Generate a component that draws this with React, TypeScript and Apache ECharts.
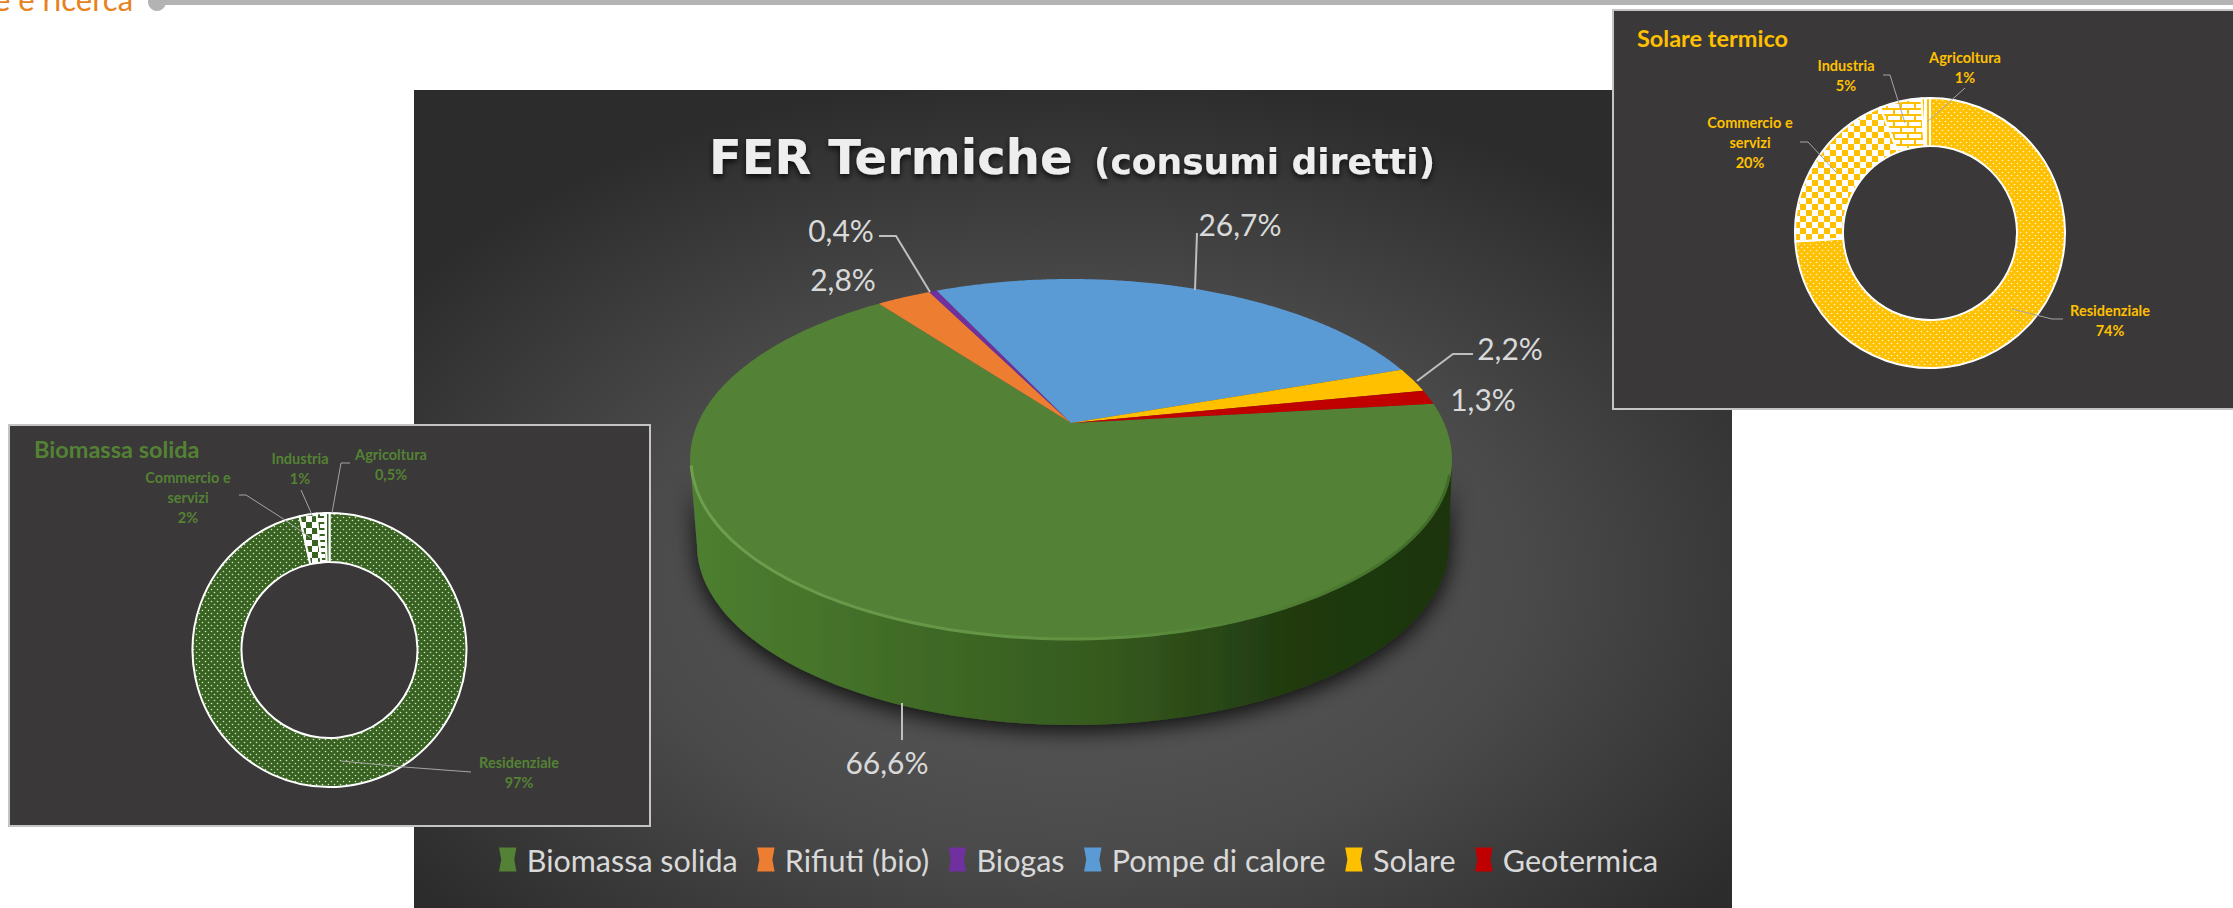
import React, { useEffect, useRef } from "react";
import * as echarts from "echarts";

// ---- data ----
const ferNames = ["Biomassa solida", "Rifiuti (bio)", "Biogas", "Pompe di calore", "Solare", "Geotermica"];
const ferValues = [66.6, 2.8, 0.4, 26.7, 2.2, 1.3];
const ferColors = ["#538135", "#ed7d31", "#7030a0", "#5b9bd5", "#ffc000", "#c00000"];

const sectorNames = ["Residenziale", "Commercio e\nservizi", "Industria", "Agricoltura"];
const biomassaValues = [96.5, 2, 1, 0.5];
const biomassaLabels = ["97%", "2%", "1%", "0,5%"];
const solareValues = [74, 20, 5, 1];
const solareLabels = ["74%", "20%", "5%", "1%"];

// ---- layout / style ----
const FONT = "Lato";
const GREEN_TXT = "#548235";
const GREEN_FILL = "#37621f";
const YELLOW = "#ffc000";
const PIE = { cx: 1071, apexY: 423, A: 373.1, B: 173.1, k: -0.2022, startDeg: -6.5 };
const mainLabelPos = [
  [887, 762], [843, 279], [841, 230], [1240, 224], [1510, 348], [1483, 399],
];
const biomassaLabelPos = [
  [519, 772], [188, 497], [300, 468], [391, 464],
];
const solareLabelPos = [
  [2110, 320], [1750, 142], [1846, 75], [1965, 67],
];

function project(deg: number): number[] {
  const t = (deg * Math.PI) / 180;
  const w = 1 + PIE.k * Math.sin(t);
  return [PIE.cx + (PIE.A * Math.cos(t)) / w, PIE.apexY + (PIE.B * Math.sin(t)) / w];
}

function ellipseArc(cx: number, cy: number, rx: number, ry: number, from: number, to: number) {
  const pts: number[][] = [];
  const n = 120;
  for (let i = 0; i <= n; i++) {
    const a = ((from + ((to - from) * i) / n) * Math.PI) / 180;
    pts.push([cx + rx * Math.cos(a), cy + ry * Math.sin(a)]);
  }
  return pts;
}

function tile(w: number, h: number, bg: string, draw: (c: CanvasRenderingContext2D) => void) {
  const cv = document.createElement("canvas");
  cv.width = w;
  cv.height = h;
  const c = cv.getContext("2d")!;
  c.fillStyle = bg;
  c.fillRect(0, 0, w, h);
  draw(c);
  return { image: cv.toDataURL(), repeat: "repeat", imageWidth: w, imageHeight: h } as any;
}

function patterns(base: string) {
  const dots = tile(6, 6, base, (c) => {
    c.fillStyle = "rgba(255,255,255,0.8)";
    for (const [x, y] of [[1.5, 1.5], [4.5, 4.5]]) {
      c.beginPath();
      c.arc(x, y, 0.8, 0, Math.PI * 2);
      c.fill();
    }
  });
  const check = tile(12, 12, "#ffffff", (c) => {
    c.fillStyle = base;
    c.fillRect(0, 0, 6, 6);
    c.fillRect(6, 6, 6, 6);
  });
  const brick = tile(14, 12, "#ffffff", (c) => {
    c.fillStyle = base;
    c.fillRect(0, 0, 14, 2);
    c.fillRect(0, 6, 14, 2);
    c.fillRect(3, 0, 2, 6);
    c.fillRect(10, 6, 2, 6);
  });
  const stripes = tile(5, 5, "#ffffff", (c) => {
    c.fillStyle = base;
    c.fillRect(2, 0, 2, 5);
  });
  return [dots, check, brick, stripes];
}

function donut(
  name: string,
  values: number[],
  labels: string[],
  base: string,
  txt: string,
  center: number[],
  radius: number[],
  pos: number[][]
) {
  const fills = patterns(base);
  return {
    type: "pie",
    name,
    center,
    radius,
    startAngle: 90,
    clockwise: true,
    silent: true,
    avoidLabelOverlap: false,
    itemStyle: { borderColor: "#ffffff", borderWidth: 2 },
    label: {
      show: true,
      position: "outside",
      fontFamily: FONT,
      fontWeight: "bold",
      fontSize: 14.5,
      lineHeight: 20,
      color: txt,
      align: "center",
      formatter: (p: any) => `${p.name}\n${labels[p.dataIndex]}`,
    },
    labelLine: { show: false },
    labelLayout: (p: any) => ({
      x: pos[p.dataIndex][0],
      y: pos[p.dataIndex][1],
      align: "center",
      verticalAlign: "middle",
    }),
    data: values.map((v, i) => ({ name: sectorNames[i], value: v, itemStyle: { color: fills[i] } })),
  };
}

function leader(points: number[][], stroke: string, lineWidth: number) {
  return { type: "polyline", z: 8, silent: true, shape: { points }, style: { stroke, lineWidth, fill: "none" } };
}

export default function App() {
  const ref = useRef<HTMLDivElement>(null);
  useEffect(() => {
    const chart = echarts.init(ref.current!, undefined, { renderer: "svg" });
    const total = ferValues.reduce((a, b) => a + b, 0);
    let acc = 0;
    const spans = ferValues.map((v) => {
      const from = PIE.startDeg + (acc / total) * 360;
      acc += v;
      return [from, PIE.startDeg + (acc / total) * 360];
    });

    const sliceSeries = ferNames.map((name, i) => ({
      type: "custom",
      name,
      coordinateSystem: "none",
      silent: true,
      z: 3,
      itemStyle: { color: ferColors[i] },
      data: [[ferValues[i]]],
      renderItem: (_: any, api: any) => {
        const [from, to] = spans[i];
        const steps = Math.max(4, Math.ceil((to - from) * 2));
        const pts: number[][] = [[PIE.cx, PIE.apexY]];
        for (let s = 0; s <= steps; s++) pts.push(project(from + ((to - from) * s) / steps));
        return {
          type: "group",
          children: [
            { type: "polygon", shape: { points: pts }, style: { fill: ferColors[i] } },
            {
              type: "text",
              z2: 10,
              style: {
                x: mainLabelPos[i][0],
                y: mainLabelPos[i][1],
                text: `${String(api.value(0)).replace(".", ",")}%`,
                font: `30px ${FONT}`,
                fill: "#d9d9d9",
                align: "center",
                verticalAlign: "middle",
              },
            },
          ],
        };
      },
    }));

    const sideSeries = {
      type: "custom",
      name: "bordo",
      coordinateSystem: "none",
      silent: true,
      z: 2,
      data: [[ferValues[0]]],
      renderItem: () => {
        const top = ellipseArc(1071, 460, 381, 180, 0, 180);
        const bottom = ellipseArc(1073, 545, 376, 180, 180, 0);
        return {
          type: "polygon",
          shape: { points: top.concat(bottom) },
          style: {
            fill: new echarts.graphic.LinearGradient(0, 0, 1, 0, [
              { offset: 0, color: "#4e7f30" },
              { offset: 0.3, color: "#3f6a26" },
              { offset: 0.55, color: "#35591e" },
              { offset: 0.8, color: "#20390f" },
              { offset: 1, color: "#1d3510" },
            ]),
            shadowBlur: 22,
            shadowColor: "rgba(0,0,0,0.85)",
            shadowOffsetY: 6,
          },
        };
      },
    };

    const rimSeries = {
      type: "custom",
      name: "bevel",
      coordinateSystem: "none",
      silent: true,
      z: 4,
      data: [[ferValues[0]]],
      renderItem: () => ({
        type: "polyline",
        shape: { points: ellipseArc(1071, 459, 380, 180, 5, 178) },
        style: {
          fill: "none",
          lineWidth: 3,
          stroke: new echarts.graphic.LinearGradient(0, 0, 1, 0, [
            { offset: 0, color: "#6f9f4e" },
            { offset: 0.55, color: "#5f9140" },
            { offset: 1, color: "#3f6b26" },
          ]),
        },
      }),
    };

    const titleStyle = {
      fontFamily: "DejaVu Sans",
      fontWeight: "bold",
      color: "#eeeeee",
      textShadowColor: "rgba(0,0,0,0.8)",
      textShadowBlur: 6,
      textShadowOffsetY: 3,
    };

    chart.setOption({
      animation: false,
      backgroundColor: "#ffffff",
      title: [
        { text: "FER Termiche", left: 704, top: 128, textStyle: { ...titleStyle, fontSize: 48 } },
        { text: "(consumi diretti)", left: 1089, top: 138, textStyle: { ...titleStyle, fontSize: 36 } },
        {
          text: "Biomassa solida",
          left: 29,
          top: 432,
          textStyle: { fontFamily: FONT, fontWeight: "bold", fontSize: 23.5, color: GREEN_TXT },
        },
        {
          text: "Solare termico",
          left: 1632,
          top: 21,
          textStyle: { fontFamily: FONT, fontWeight: "bold", fontSize: 23.5, color: YELLOW },
        },
      ],
      legend: {
        data: ferNames,
        left: 494,
        top: 839,
        itemGap: 19.5,
        itemWidth: 18,
        itemHeight: 24,
        icon: "path://M0 0L16 0L14 11L16 22L0 22L2 11Z",
        selectedMode: false,
        textStyle: { fontFamily: FONT, fontSize: 30.5, color: "#d9d9d9", padding: [0, 0, 0, 5] },
      },
      graphic: [
        {
          type: "rect",
          z: 0,
          silent: true,
          shape: { x: 414, y: 90, width: 1318, height: 818 },
          style: {
            fill: new echarts.graphic.RadialGradient(0.5, 0.6, 0.62, [
              { offset: 0, color: "#5c5c5c" },
              { offset: 0.55, color: "#4a4a4a" },
              { offset: 1, color: "#2c2c2c" },
            ]),
          },
        },
        {
          type: "rect",
          z: 1,
          silent: true,
          shape: { x: 9, y: 425, width: 641, height: 401 },
          style: { fill: "#3a3838", stroke: "#c4c4c4", lineWidth: 2 },
        },
        {
          type: "rect",
          z: 1,
          silent: true,
          shape: { x: 1613, y: 10, width: 630, height: 399 },
          style: { fill: "#3a3838", stroke: "#c4c4c4", lineWidth: 2 },
        },
        { type: "rect", z: 1, silent: true, shape: { x: 157, y: 0, width: 2076, height: 5 }, style: { fill: "#b3b3b3" } },
        { type: "circle", z: 1, silent: true, shape: { cx: 157, cy: 2, r: 9 }, style: { fill: "#b3b3b3" } },
        {
          type: "text",
          z: 1,
          silent: true,
          style: {
            x: -6,
            y: 14,
            text: "e e ricerca",
            font: `31px ${FONT}`,
            fill: "#e8821e",
            verticalAlign: "bottom",
          },
        },
        // leader lines, main pie
        leader([[1197, 233], [1195, 290]], "#bfbfbf", 2),
        leader([[879, 236], [896, 236], [930, 292]], "#bfbfbf", 2),
        leader([[1473, 354], [1453, 354], [1417, 381]], "#bfbfbf", 2),
        leader([[902, 740], [902, 703]], "#bfbfbf", 2),
        // leader lines, biomassa
        leader([[350, 463], [341, 463], [332, 513]], "#a6a6a6", 1),
        leader([[301, 490], [313, 517]], "#a6a6a6", 1),
        leader([[239, 495], [246, 495], [282, 518], [311, 538]], "#a6a6a6", 1),
        leader([[471, 772], [404, 767], [341, 761]], "#a6a6a6", 1),
        // leader lines, solare
        leader([[1965, 88], [1927, 122]], "#a6a6a6", 1),
        leader([[1883, 75], [1890, 75], [1905, 123]], "#a6a6a6", 1),
        leader([[1800, 142], [1808, 142], [1836, 172]], "#a6a6a6", 1),
        leader([[2063, 319], [2052, 319], [2012, 309]], "#a6a6a6", 1),
      ],
      series: [
        sideSeries,
        ...sliceSeries,
        rimSeries,
        donut("Biomassa solida", biomassaValues, biomassaLabels, GREEN_FILL, GREEN_TXT, [329.5, 650], [88, 137], biomassaLabelPos),
        donut("Solare termico", solareValues, solareLabels, YELLOW, YELLOW, [1930, 233], [87, 135], solareLabelPos),
      ],
    });
    return () => chart.dispose();
  }, []);
  return <div ref={ref} style={{ position: "fixed", left: 0, top: 0, width: 2233, height: 908 }} />;
}
